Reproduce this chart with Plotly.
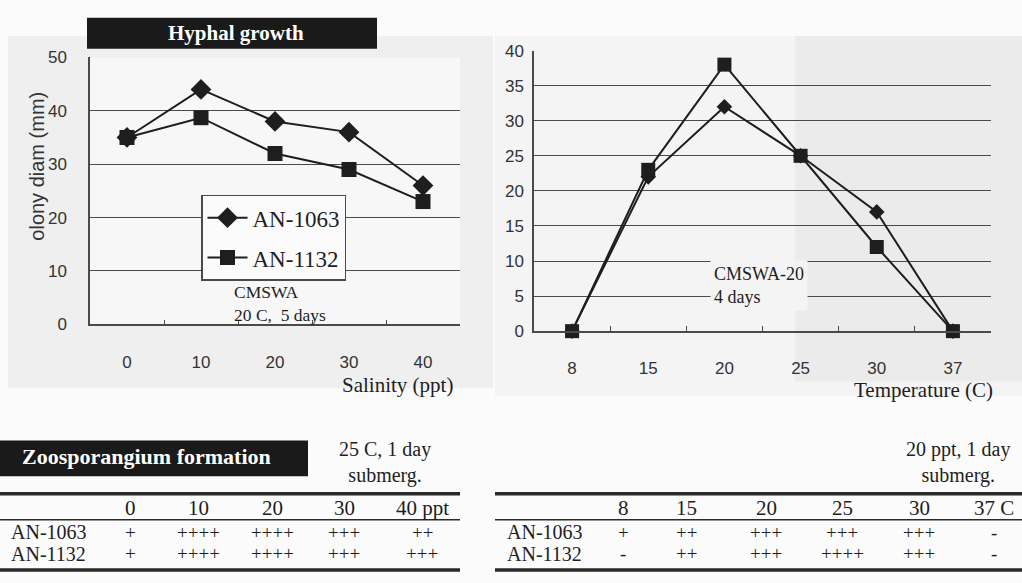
import plotly.graph_objects as go

# ---------------- data ----------------
salinity = ["0", "10", "20", "30", "40"]
sal_an1063 = [35, 44, 38, 36, 26]
sal_an1132 = [35, 38.7, 32, 29, 23]

temperature = ["8", "15", "20", "25", "30", "37"]
temp_an1063 = [0, 22, 32, 25, 17, 0]
temp_an1132 = [0, 23, 38, 25, 12, 0]

strains = ["AN-1063", "AN-1132"]
zoo_sal_header = ["0", "10", "20", "30", "40 ppt"]
zoo_sal_1063 = ["+", "++++", "++++", "+++", "++"]
zoo_sal_1132 = ["+", "++++", "++++", "+++", "+++"]
zoo_temp_header = ["8", "15", "20", "25", "30", "37 C"]
zoo_temp_1063 = ["+", "++", "+++", "+++", "+++", "-"]
zoo_temp_1132 = ["-", "++", "+++", "++++", "+++", "-"]

# ---------------- helpers ----------------
W, H = 1022, 583
def X(px):
    return px / W
def Y(py):
    return 1 - py / H

SERIF = "Liberation Serif"
SANS = "Liberation Sans"
INK = "#1e1e1e"
GRID = "#4a4a4a"

fig = go.Figure()

# left chart traces
fig.add_trace(go.Scatter(x=salinity, y=sal_an1063, name="AN-1063", mode="lines+markers",
                         line=dict(color=INK, width=2), legendgroup="a",
                         marker=dict(symbol="diamond", size=16, color=INK),
                         xaxis="x", yaxis="y", cliponaxis=False))
fig.add_trace(go.Scatter(x=salinity, y=sal_an1132, name="AN-1132", mode="lines+markers",
                         line=dict(color=INK, width=2), legendgroup="b",
                         marker=dict(symbol="square", size=15, color=INK),
                         xaxis="x", yaxis="y", cliponaxis=False))
# right chart traces
fig.add_trace(go.Scatter(x=temperature, y=temp_an1063, name="AN-1063", mode="lines+markers",
                         line=dict(color=INK, width=2), showlegend=False,
                         marker=dict(symbol="diamond", size=12, color=INK),
                         xaxis="x2", yaxis="y2", cliponaxis=False))
fig.add_trace(go.Scatter(x=temperature, y=temp_an1132, name="AN-1132", mode="lines+markers",
                         line=dict(color=INK, width=2), showlegend=False,
                         marker=dict(symbol="square", size=14, color=INK),
                         xaxis="x2", yaxis="y2", cliponaxis=False))

axis_common = dict(linecolor=GRID, linewidth=1.5, gridcolor=GRID, gridwidth=1.3,
                   tickfont=dict(family=SANS, size=17, color="#333"),
                   zeroline=False, fixedrange=True)

fig.update_layout(
    width=W, height=H,
    margin=dict(l=0, r=0, t=0, b=0),
    paper_bgcolor="#fbfbfb",
    plot_bgcolor="rgba(0,0,0,0)",
    showlegend=True,
    legend=dict(x=X(201), y=Y(192), xanchor="left", yanchor="top",
                bgcolor="#fbfbfb", bordercolor=GRID, borderwidth=1.5,
                font=dict(family=SERIF, size=23, color=INK),
                tracegroupgap=7, itemwidth=40),
    xaxis=dict(domain=[X(90), X(460)], type="category", range=[-0.5, 4.5],
               showline=True, showgrid=False, ticks="inside", tickson="boundaries",
               ticklen=5, tickcolor=GRID, ticklabelstandoff=21, anchor="y",
               **axis_common),
    yaxis=dict(domain=[Y(326), Y(50)], range=[0, 50], dtick=10,
               showline=True, showgrid=True, ticks="", ticklabelstandoff=18,
               anchor="x", **axis_common),
    xaxis2=dict(domain=[X(534), X(991)], type="category", range=[-0.5, 5.5],
                showline=True, showgrid=False, ticks="inside", tickson="boundaries",
                ticklen=5, tickcolor=GRID, ticklabelstandoff=21, anchor="y2",
                **axis_common),
    yaxis2=dict(domain=[Y(333), Y(43)], range=[0, 40], dtick=5,
                showline=True, showgrid=True, ticks="", ticklabelstandoff=5,
                anchor="x2", **axis_common),
)

shapes = []
# scanned-page gray panels
shapes.append(dict(type="rect", xref="paper", yref="paper", layer="below",
                   x0=X(8), x1=X(493), y0=Y(392), y1=Y(28),
                   fillcolor="#efefef", line=dict(width=0)))
shapes.append(dict(type="rect", xref="paper", yref="paper", layer="below",
                   x0=X(90), x1=X(460), y0=Y(326), y1=Y(50),
                   fillcolor="#f7f7f7", line=dict(width=0)))
shapes.append(dict(type="rect", xref="paper", yref="paper", layer="below",
                   x0=X(495), x1=X(1022), y0=Y(400), y1=Y(28),
                   fillcolor="#f4f4f4", line=dict(width=0)))
shapes.append(dict(type="rect", xref="paper", yref="paper", layer="below",
                   x0=X(795), x1=X(1022), y0=Y(385), y1=Y(28),
                   fillcolor="#ebebeb", line=dict(width=0)))
# black title boxes
shapes.append(dict(type="rect", xref="paper", yref="paper",
                   x0=X(87), x1=X(377), y0=Y(41), y1=Y(9),
                   fillcolor="#1a1a1a", line=dict(width=0)))
shapes.append(dict(type="rect", xref="paper", yref="paper",
                   x0=X(0), x1=X(308), y0=Y(483), y1=Y(446),
                   fillcolor="#1a1a1a", line=dict(width=0)))
# table rules
for (xa, xb) in [(0, 460), (495, 1022)]:
    shapes.append(dict(type="line", xref="paper", yref="paper",
                       x0=X(xa), x1=X(xb), y0=Y(501), y1=Y(501),
                       line=dict(color="#2a2a2a", width=3.5)))
    shapes.append(dict(type="line", xref="paper", yref="paper",
                       x0=X(xa), x1=X(xb), y0=Y(528), y1=Y(528),
                       line=dict(color="#2a2a2a", width=1.5)))
    shapes.append(dict(type="line", xref="paper", yref="paper",
                       x0=X(xa), x1=X(xb), y0=Y(580), y1=Y(580),
                       line=dict(color="#2a2a2a", width=3.5)))
fig.update_layout(shapes=shapes)

ann = []
def text(s, px, py, size, family=SERIF, color=INK, xanchor="center", **kw):
    ann.append(dict(text=s, x=X(px), y=Y(py), xref="paper", yref="paper",
                    xanchor=xanchor, yanchor="middle", showarrow=False,
                    font=dict(family=family, size=size, color=color), **kw))

text("<b>Hyphal growth</b>", 236, 25, 21, color="white")
text("<b>Zoosporangium formation</b>", 146, 463, 22, color="white")
text("olony diam (mm)", 37, 163, 20, family=SANS, color="#333", textangle=-90)
text("Salinity (ppt)", 397, 389, 21)
text("Temperature (C)", 923, 394, 21)
text("CMSWA<br>20 C,  5 days", 232, 304, 17.5, xanchor="left", align="left")
ann.append(dict(text="CMSWA-20<br>4 days", x=X(710), y=Y(286), xref="paper", yref="paper",
                xanchor="left", yanchor="middle", showarrow=False, align="left",
                bgcolor="#f4f4f4", borderpad=3,
                font=dict(family=SERIF, size=18, color=INK)))

# table 1
text("25 C, 1 day<br>submerg.", 385, 469, 20, align="center")
t1_cols = [130, 198, 272, 344, 422]
for lab, cx in zip(zoo_sal_header, t1_cols):
    text(lab, cx, 516, 21)
for row, py, name in [(zoo_sal_1063, 541, strains[0]), (zoo_sal_1132, 563, strains[1])]:
    text(name, 9, py, 20, xanchor="left")
    for v, cx in zip(row, t1_cols):
        text(v, cx, py, 19)

# table 2
text("20 ppt, 1 day<br>submerg.", 958, 469, 20, align="center")
t2_cols = [623, 686, 766, 842, 919, 994]
for lab, cx in zip(zoo_temp_header, t2_cols):
    text(lab, cx, 516, 21)
for row, py, name in [(zoo_temp_1063, 541, strains[0]), (zoo_temp_1132, 563, strains[1])]:
    text(name, 505, py, 20, xanchor="left")
    for v, cx in zip(row, t2_cols):
        text(v, cx, py, 19)

fig.update_layout(annotations=ann)
fig.write_html("out.html")
